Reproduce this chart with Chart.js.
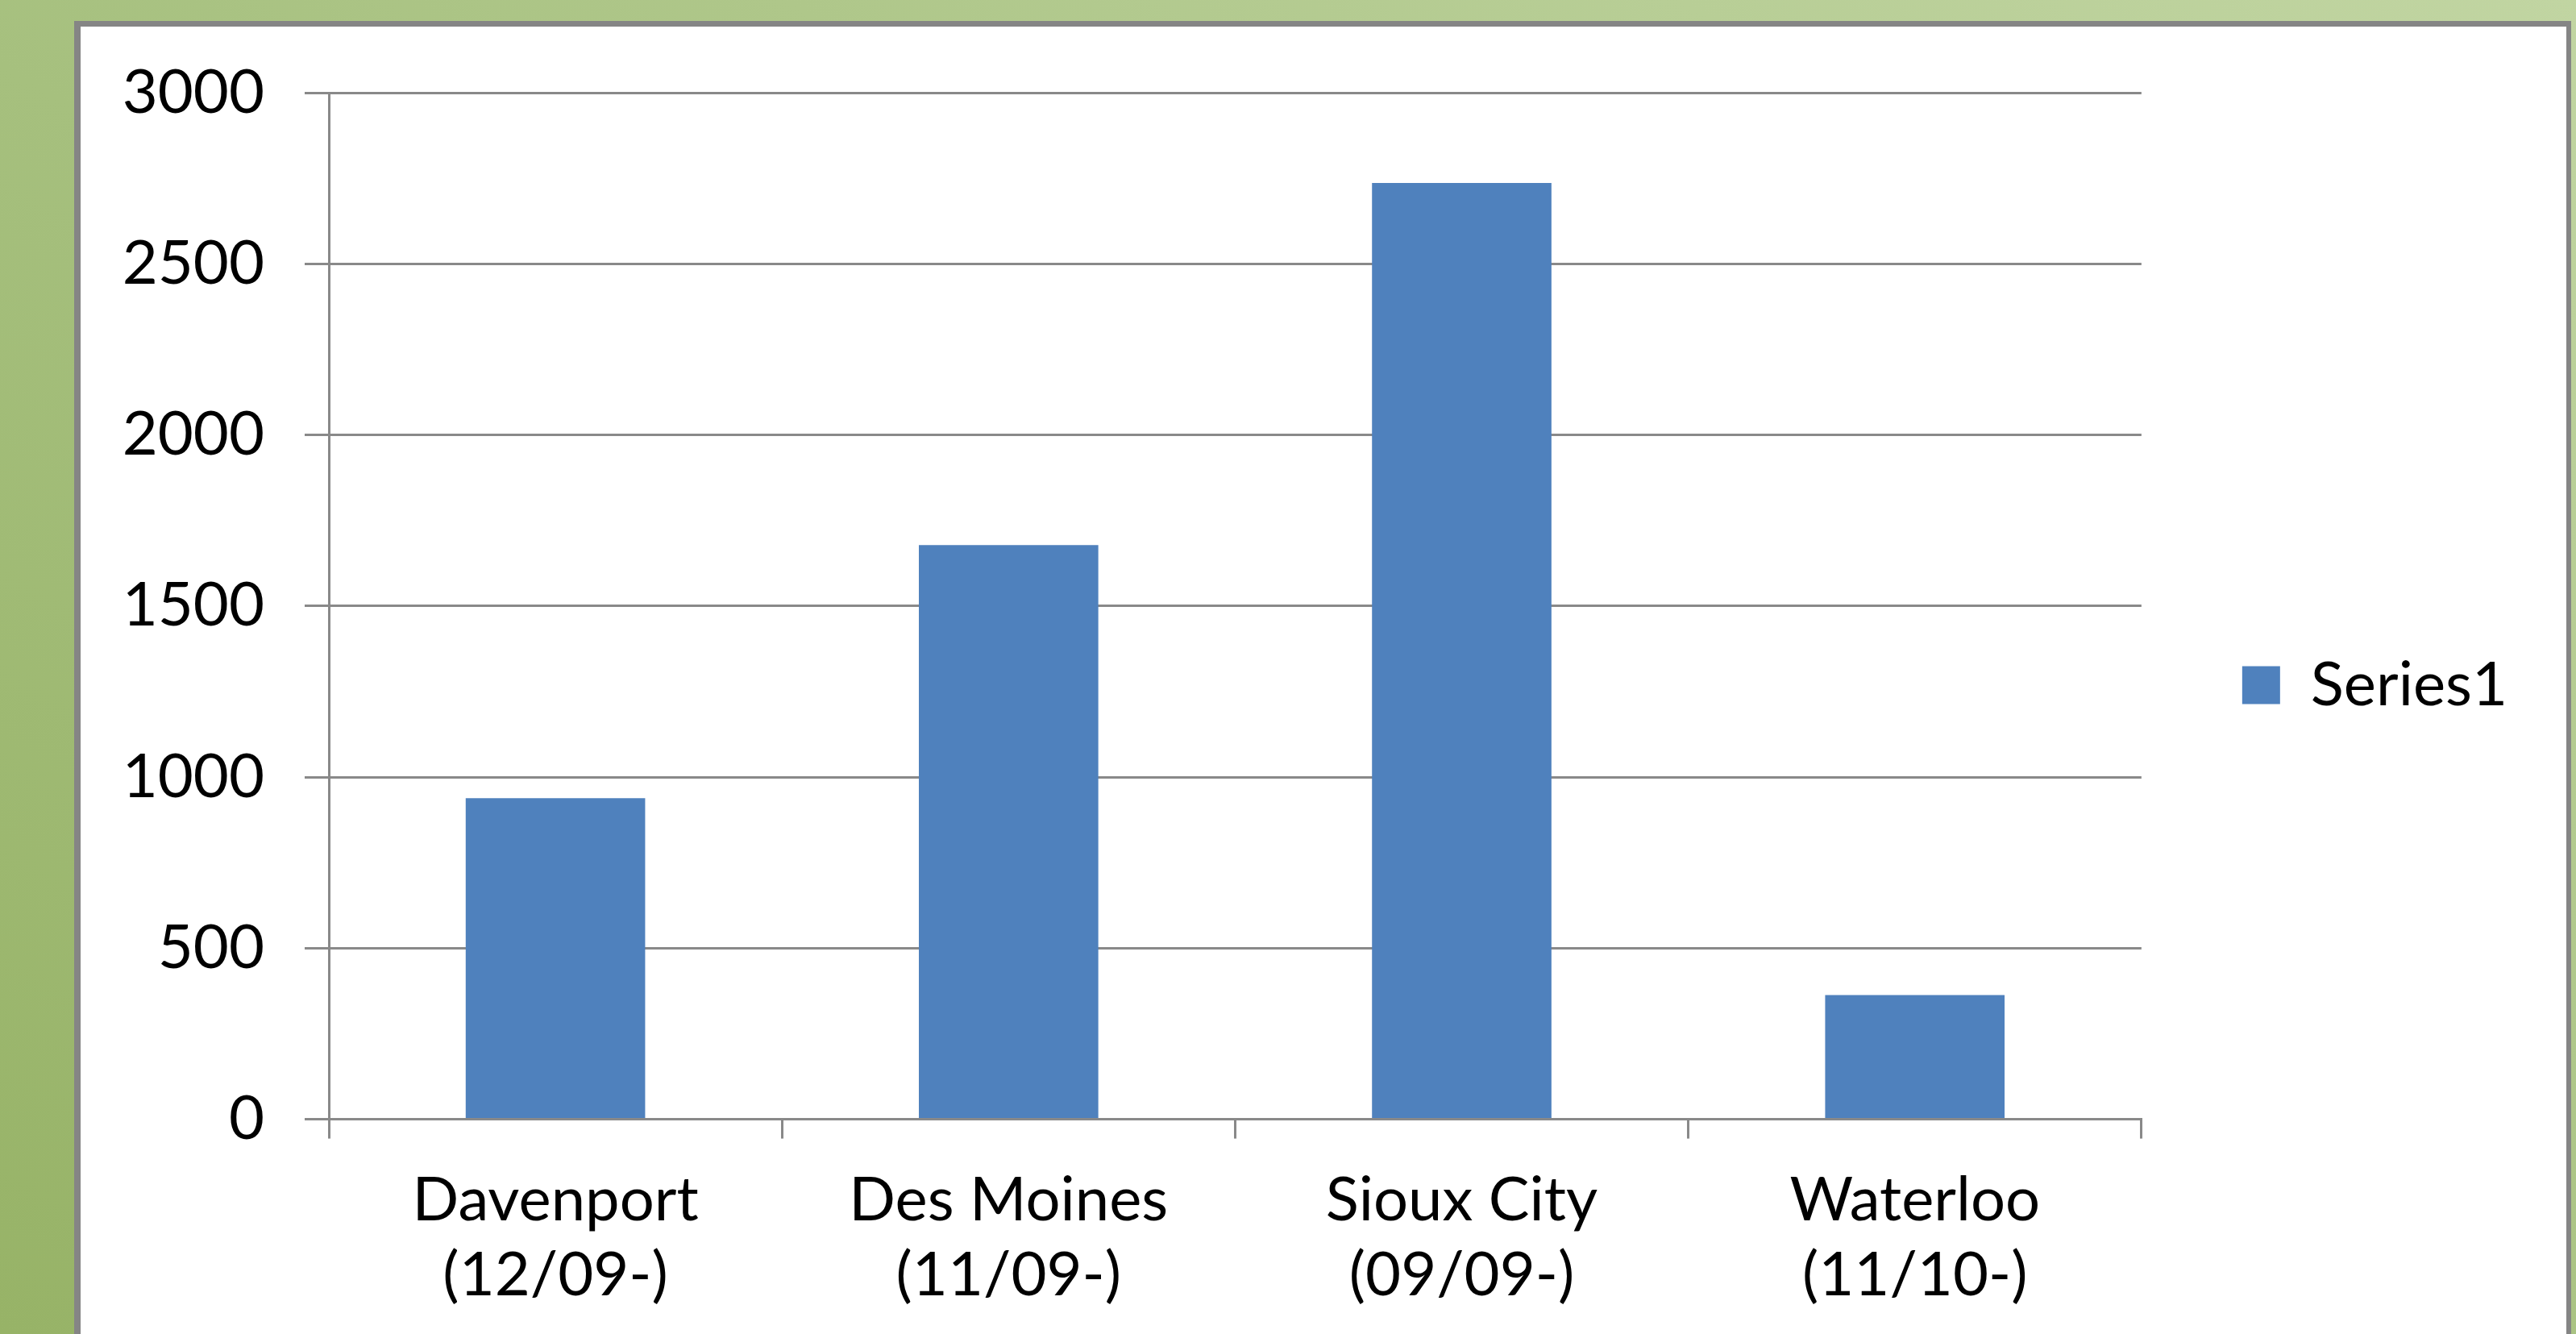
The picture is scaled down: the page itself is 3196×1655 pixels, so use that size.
<!DOCTYPE html>
<html>
<head>
<meta charset="utf-8">
<script src="https://cdn.jsdelivr.net/npm/chart.js@4/dist/chart.umd.min.js"></script>
<style>
  html, body { margin: 0; padding: 0; width: 3196px; height: 1655px; overflow: hidden; }
  body { background: linear-gradient(30deg, #97b367 0%, #a6c07e 45%, #c1d5a2 100%); position: relative; }
  #panel { position: absolute; left: 92px; top: 26px; width: 3098px; height: 1700px; background: #fff;
           box-sizing: border-box; border-left: 8px solid #858585; border-top: 7px solid #858585; border-right: 6px solid #858585; }
  #c { position: absolute; left: 0; top: 0; }
</style>
</head>
<body>
<div id="panel"></div>
<canvas id="c" width="3196" height="1655"></canvas>
<script>
const cities = ['Davenport', 'Des Moines', 'Sioux City', 'Waterloo'];
const startDates = ['(12/09-)', '(11/09-)', '(09/09-)', '(11/10-)'];
const series1 = [938, 1678, 2736, 363];
const seriesName = 'Series1';
const yTicks = [0, 500, 1000, 1500, 2000, 2500, 3000];

const labels = cities.map((c, i) => [c, startDates[i]]);
const FONT = { family: 'Lato', size: 76 };
const GRID = '#898989';

new Chart(document.getElementById('c'), {
  type: 'bar',
  data: {
    labels: labels,
    datasets: [{
      label: seriesName,
      data: series1,
      backgroundColor: '#4f81bd',
      borderWidth: 0,
      barPercentage: 0.396,
      categoryPercentage: 1.0
    }]
  },
  options: {
    responsive: false,
    animation: false,
    devicePixelRatio: 1,
    layout: { padding: { left: 100, top: 115, right: 75, bottom: -5 } },
    plugins: {
      tooltip: { enabled: false },
      legend: {
        position: 'right',
        title: { display: true, text: '', font: { size: 1 }, padding: { top: 0, bottom: -76 } },
        labels: { boxWidth: 47, boxHeight: 47, padding: 10, color: '#000', font: FONT }
      }
    },
    scales: {
      x: {
        grid: { display: true, drawOnChartArea: false, tickLength: 24, color: GRID, lineWidth: 3 },
        border: { display: true, color: GRID, width: 3 },
        ticks: { padding: 31, color: '#000', font: { family: 'Lato', size: 76, lineHeight: 1.22 }, maxRotation: 0, autoSkip: false }
      },
      y: {
        min: yTicks[0],
        max: yTicks[yTicks.length - 1],
        afterBuildTicks: s => { s.ticks = yTicks.map(v => ({ value: v })); },
        grid: { color: GRID, lineWidth: 3, tickLength: 30 },
        border: { display: true, color: GRID, width: 3 },
        ticks: { padding: 50, color: '#000', font: FONT, callback: v => String(v) },
        afterFit: s => { s.width = 308; }
      },
      spacer: {
        type: 'linear',
        position: 'right',
        display: true,
        grid: { display: false },
        border: { display: false },
        ticks: { display: false },
        afterFit: s => { s.width = 115; }
      }
    }
  }
});
</script>
</body>
</html>
